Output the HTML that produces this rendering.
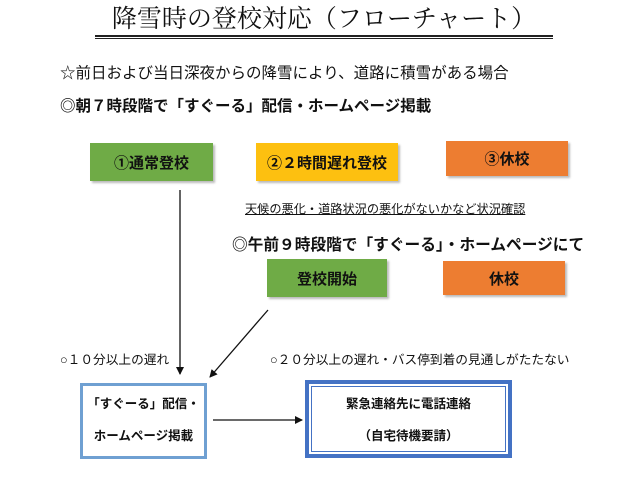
<!DOCTYPE html>
<html><head><meta charset="utf-8"><style>
body{margin:0;width:640px;height:480px;background:#fff;position:relative;overflow:hidden;font-family:"Liberation Sans","Noto Sans CJK JP",sans-serif;color:#111}
.a{position:absolute;white-space:nowrap}
.box{position:absolute;display:flex;align-items:center;justify-content:center;font-weight:bold;font-size:15px;box-shadow:2px 2px 2px #bbb}
</style></head><body>
<div class="a" style="left:95px;top:5px;width:458px;text-align:center;font-family:'Liberation Serif','Noto Serif CJK SC',serif;font-size:25px;line-height:30px">降雪時の登校対応（フローチャート）</div>
<div class="a" style="left:95px;top:35px;width:458px;height:1px;border-top:2px solid #222;border-bottom:1px solid #222"></div>
<div class="a" style="left:60px;top:61px;font-size:15.5px">☆前日および当日深夜からの降雪により、道路に積雪がある場合</div>
<div class="a" style="left:60px;top:94px;font-size:15.5px;font-weight:bold">◎朝７時段階で「すぐーる」配信・ホームページ掲載</div>
<div class="box" style="left:90px;top:143px;width:123px;height:38px;background:#6fab46">①通常登校</div>
<div class="box" style="left:256px;top:143px;width:142px;height:38px;background:#fdc010">②２時間遅れ登校</div>
<div class="box" style="left:446px;top:141px;width:122px;height:35px;background:#ed7d31">③休校</div>
<div class="a" style="left:245px;top:199px;font-size:12.2px;text-decoration:underline">天候の悪化・道路状況の悪化がないかなど状況確認</div>
<div class="a" style="left:232px;top:232px;font-size:15.7px;font-weight:bold">◎午前９時段階で「すぐーる」・ホームページにて</div>
<div class="box" style="left:267px;top:259px;width:120px;height:38px;background:#6fab46">登校開始</div>
<div class="box" style="left:443px;top:261px;width:122px;height:34px;background:#ed7d31">休校</div>
<div class="a" style="left:60px;top:349px;font-size:12.7px">○１０分以上の遅れ</div>
<div class="a" style="left:270px;top:349px;font-size:12.7px">○２０分以上の遅れ・バス停到着の見通しがたたない</div>
<div class="a" style="left:80px;top:383px;width:121px;height:68px;border:3px solid #6fa0d2;font-size:12.5px;font-weight:bold;text-align:center;line-height:32px;padding-top:2px">「すぐーる」配信・<br>ホームページ掲載</div>
<div class="a" style="left:305px;top:380px;width:193px;height:66px;border:4px solid #4472c4;box-shadow:inset 0 0 0 2px #fff,inset 0 0 0 3px #4472c4;font-size:12.5px;font-weight:bold;text-align:center;line-height:32px;padding-top:4px;padding-left:3px;padding-right:3px">緊急連絡先に電話連絡<br>（自宅待機要請）</div>
<svg class="a" style="left:0;top:0" width="640" height="480">
<defs><marker id="m" markerWidth="8" markerHeight="8" refX="7" refY="4" orient="auto" markerUnits="userSpaceOnUse"><path d="M0,0L8,4L0,8z" fill="#111"/></marker></defs>
<line x1="180" y1="190" x2="180" y2="374" stroke="#111" stroke-width="1.3" marker-end="url(#m)"/>
<line x1="268" y1="310" x2="210" y2="377" stroke="#111" stroke-width="1.3" marker-end="url(#m)"/>
<line x1="213" y1="420" x2="302" y2="420" stroke="#111" stroke-width="1.3" marker-end="url(#m)"/>
</svg>
</body></html>
